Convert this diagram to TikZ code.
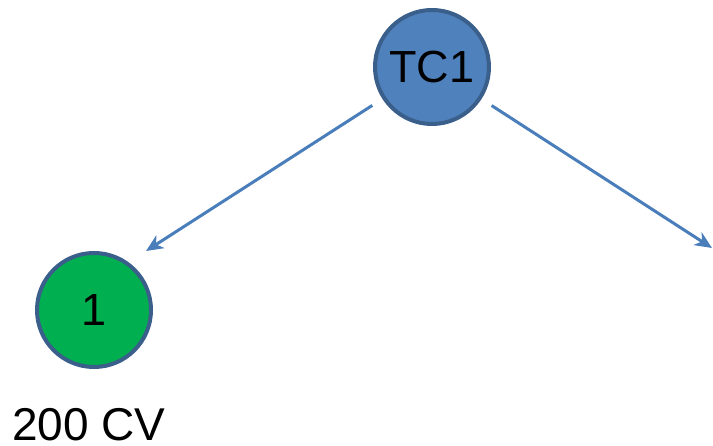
\documentclass[tikz,border=0pt]{standalone}
\usepackage{fontspec}
\setmainfont{Liberation Sans}
\usetikzlibrary{arrows.meta}
\definecolor{nodeblue}{HTML}{4F81BD}
\definecolor{edgeblue}{HTML}{3A5F8B}
\definecolor{nodegreen}{HTML}{00B050}
\definecolor{arrowblue}{HTML}{4A7EBB}
\begin{document}
\begin{tikzpicture}[x=1pt,y=-1pt,
  treenode/.style={circle,draw=edgeblue,line width=4pt,minimum size=114pt,inner sep=0pt,font=\fontsize{45}{50}\selectfont},
  conn/.style={draw=arrowblue,line width=3pt,shorten <=12pt,-{Stealth[length=17pt,width=15pt,inset=5pt]}}]
\useasboundingbox (0,0) rectangle (713,446);
\node[treenode,fill=nodeblue] (tc1) at (432,67) {TC1};
\node[treenode,fill=nodegreen] (n1) at (94,310) {1};
\node[anchor=base west,font=\fontsize{46}{50}\selectfont,inner sep=0pt] (lab) at (12,441) {200 CV};
\coordinate (r) at (712,248);
\draw[conn] (tc1) -- (146,251);
\draw[conn] (tc1) -- (r);
\end{tikzpicture}
\end{document}
